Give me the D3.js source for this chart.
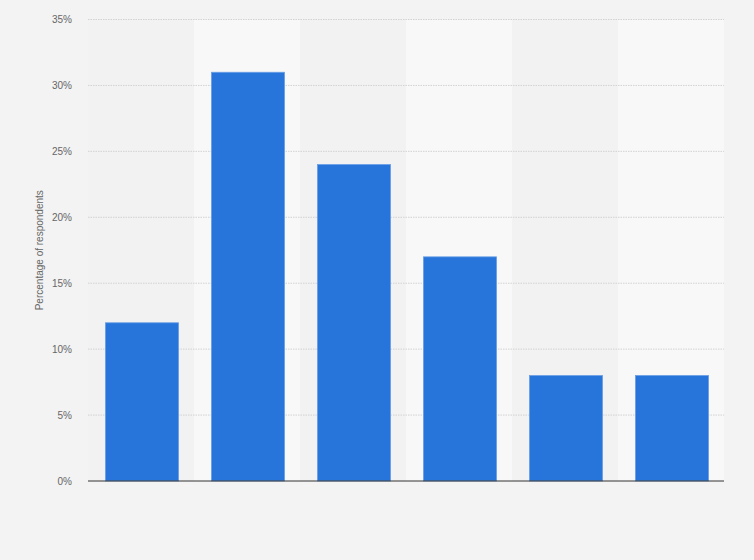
<!DOCTYPE html>
<html>
<head>
<meta charset="utf-8">
<script src="https://cdn.jsdelivr.net/npm/d3@7"></script>
<style>
  body { margin: 0; background: #f3f3f3; }
  svg { display: block; }
</style>
</head>
<body>
<svg></svg>
<script>
// x categories have no visible labels in the picture
var categories = ["A", "B", "C", "D", "E", "F"];
var shares = [12, 31, 24, 17, 8, 8];
var yTicks = [0, 5, 10, 15, 20, 25, 30, 35];

var screen = { width: 754, height: 560 };
var margins = { top: 19.5, bottom: 79, left: 88, right: 30 };
var boxWidth = screen.width - margins.left - margins.right;
var boxHeight = screen.height - margins.top - margins.bottom;

var svg = d3.select("svg")
  .attr("width", screen.width)
  .attr("height", screen.height);

svg.append("rect")
  .attr("width", screen.width)
  .attr("height", screen.height)
  .attr("fill", "#f3f3f3");

var xScale = d3.scaleBand()
  .domain(categories)
  .range([1, boxWidth + 1])
  .paddingInner(0.31)
  .paddingOuter(0.155);

var bandScale = d3.scaleBand()
  .domain(categories)
  .range([0, boxWidth]);

var yScale = d3.scaleLinear()
  .domain([0, 35])
  .range([boxHeight, 0]);

var plot = svg.append("g")
  .attr("transform", "translate(" + margins.left + "," + margins.top + ")");

// alternating column bands
plot.selectAll(".band")
  .data(categories)
  .enter()
  .append("rect")
  .attr("class", "band")
  .attr("x", function(d) { return bandScale(d); })
  .attr("y", 0)
  .attr("width", bandScale.bandwidth())
  .attr("height", boxHeight)
  .attr("fill", function(d, i) { return i % 2 == 0 ? "#f2f2f2" : "#f8f8f8"; });

// gridlines
plot.selectAll(".grid")
  .data(yTicks.filter(function(t) { return t > 0; }))
  .enter()
  .append("line")
  .attr("class", "grid")
  .attr("x1", 0)
  .attr("x2", boxWidth)
  .attr("y1", function(d) { return yScale(d); })
  .attr("y2", function(d) { return yScale(d); })
  .attr("stroke", "#d2d2d2")
  .attr("stroke-width", 1)
  .attr("stroke-dasharray", "1.5,1");

// y axis labels
var yAxis = d3.axisLeft(yScale)
  .tickValues(yTicks)
  .tickFormat(function(d) { return d + "%"; })
  .tickSize(0)
  .tickPadding(16);

var yg = plot.append("g").call(yAxis);
yg.select(".domain").remove();
yg.selectAll("text")
  .attr("fill", "#666")
  .style("font-family", "'Liberation Sans', Arial, sans-serif")
  .style("font-size", "10px");

// bars
plot.selectAll(".bar")
  .data(shares)
  .enter()
  .append("rect")
  .attr("class", "bar")
  .attr("x", function(d, i) { return xScale(categories[i]); })
  .attr("y", function(d) { return yScale(d); })
  .attr("width", xScale.bandwidth())
  .attr("height", function(d) { return boxHeight - yScale(d); })
  .attr("fill", "#2775db")
  .attr("stroke", "#6a9fe6")
  .attr("stroke-width", 0.8);

// baseline
plot.append("line")
  .attr("x1", 0)
  .attr("x2", boxWidth)
  .attr("y1", yScale(0))
  .attr("y2", yScale(0))
  .attr("stroke", "#333")
  .attr("stroke-width", 1.2);

// y title
svg.append("text")
  .attr("transform", "translate(43," + (margins.top + boxHeight / 2) + ") rotate(-90)")
  .attr("text-anchor", "middle")
  .attr("fill", "#666")
  .style("font-family", "'Liberation Sans', Arial, sans-serif")
  .style("font-size", "10px")
  .text("Percentage of respondents");
</script>
</body>
</html>
